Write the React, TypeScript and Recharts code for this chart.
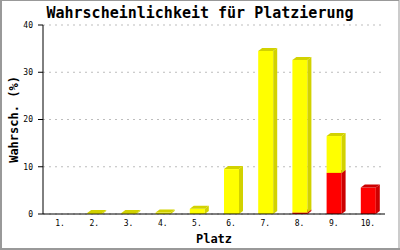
import React from 'react';
import { BarChart, Bar, XAxis, YAxis, CartesianGrid } from 'recharts';

const platz = ['1.', '2.', '3.', '4.', '5.', '6.', '7.', '8.', '9.', '10.'];
const gelb = [0, 0.2, 0.2, 0.3, 1.1, 9.5, 34.5, 32.3, 7.8, 0];
const rot = [0, 0, 0, 0, 0, 0, 0, 0.3, 8.7, 5.6];
const yTicks = [0, 10, 20, 30, 40];

const data = platz.map((p, i) => ({ platz: p, rot: rot[i], gelb: gelb[i] }));

const MONO = '"DejaVu Sans Mono", monospace';
const DX = 4;
const DY = 3;

const make3D = (front: string, side: string) => (props: any) => {
  const { x, y, width, height } = props;
  if (!height || height <= 0 || !width) return <g />;
  const r = x + width;
  const b = y + height;
  return (
    <g>
      <rect x={x} y={y} width={width} height={height} fill={front} />
      <polygon
        points={`${r},${y} ${r + DX},${y - DY} ${r + DX},${b - DY} ${r},${b}`}
        fill={side}
      />
      <polygon
        points={`${x},${y} ${x + DX},${y - DY} ${r + DX},${y - DY} ${r},${y}`}
        fill={side}
      />
    </g>
  );
};

const YLabel = (props: any) => {
  const vb = props.viewBox || { x: 0, y: 25, width: 43, height: 189 };
  const cx = 14;
  const cy = vb.y + vb.height / 2;
  return (
    <text
      x={cx}
      y={cy}
      transform={`rotate(-90 ${cx} ${cy})`}
      textAnchor="middle"
      dominantBaseline="central"
      fontFamily={MONO}
      fontWeight="bold"
      fontSize={12}
      fill="#000"
    >
      Wahrsch. (%)
    </text>
  );
};

export default function App() {
  return (
    <div style={{ position: 'absolute', left: 0, top: 0, width: 400, height: 250, background: '#fff' }}>
      <BarChart
        width={400}
        height={250}
        data={data}
        margin={{ top: 25, right: 15, left: 0, bottom: 0 }}
        barSize={15}
      >
        <CartesianGrid
          yAxisId="l"
          vertical={false}
          stroke="#bdbdbd"
          strokeDasharray="2 4"
        />
        <XAxis
          dataKey="platz"
          height={36}
          tickLine={false}
          tickSize={4}
          tickMargin={2}
          axisLine={{ stroke: '#000' }}
          tick={{ fontFamily: MONO, fontSize: 8, fill: '#000' }}
          interval={0}
          label={{
            value: 'Platz',
            position: 'insideBottom',
            offset: 7,
            style: { fontFamily: MONO, fontWeight: 'bold', fontSize: 12, fill: '#000' },
          }}
        />
        <YAxis
          yAxisId="l"
          width={43}
          domain={[0, 40]}
          ticks={yTicks}
          tickSize={5}
          tickMargin={5}
          tickLine={{ stroke: '#000' }}
          axisLine={{ stroke: '#000' }}
          tick={{ fontFamily: MONO, fontSize: 8, fill: '#000' }}
          label={<YLabel />}
        />
        <YAxis
          yAxisId="r"
          orientation="right"
          width={0}
          domain={[0, 40]}
          tick={false}
          tickLine={false}
          axisLine={{ stroke: '#000' }}
        />
        <Bar
          yAxisId="l"
          dataKey="rot"
          stackId="a"
          fill="#ff0000"
          shape={make3D('#ff0000', '#cc0000')}
          isAnimationActive={false}
        />
        <Bar
          yAxisId="l"
          dataKey="gelb"
          stackId="a"
          fill="#ffff00"
          shape={make3D('#ffff00', '#d2d200')}
          isAnimationActive={false}
        />
      </BarChart>
      <svg
        width={400}
        height={250}
        style={{ position: 'absolute', left: 0, top: 0, pointerEvents: 'none' }}
      >
        <text
          x={200}
          y={18}
          textAnchor="middle"
          fontFamily={MONO}
          fontWeight="bold"
          fontSize={15}
          fill="#000"
        >
          Wahrscheinlichkeit für Platzierung
        </text>
        <rect x={0.5} y={0.5} width={398.5} height={248} fill="none" stroke="#999" strokeWidth={1} />
        <rect x={0} y={0} width={2} height={250} fill="#999" />
        <rect x={0} y={248} width={400} height={2} fill="#999" />
      </svg>
    </div>
  );
}
